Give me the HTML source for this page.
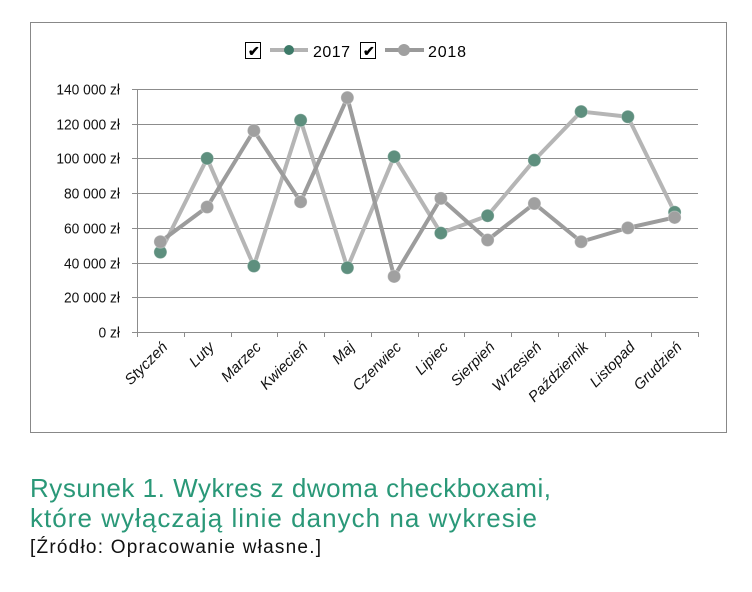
<!DOCTYPE html>
<html><head><meta charset="utf-8"><style>
body{margin:0;background:#fff;}
svg{display:block;font-family:"Liberation Sans",sans-serif;}
</style></head><body>
<svg id="c" width="752" height="592">
<rect x="30.5" y="22.5" width="696" height="410" fill="none" stroke="#888"/>
<g>
 <rect x="245.5" y="42.5" width="15" height="16" fill="#fff" stroke="#000"/>
 <text x="248" y="56" font-size="14" font-weight="bold">✔</text>
 <line x1="270" y1="50" x2="308" y2="50" stroke="#b3b3b3" stroke-width="4"/>
 <circle cx="289" cy="50" r="5" fill="#3d7a68"/>
 <text x="313" y="57" font-size="16" textLength="37">2017</text>
 <rect x="360.5" y="42.5" width="15" height="16" fill="#fff" stroke="#000"/>
 <text x="363" y="56" font-size="14" font-weight="bold">✔</text>
 <line x1="385" y1="50" x2="424" y2="50" stroke="#9a9a9a" stroke-width="4"/>
 <circle cx="404" cy="50" r="6" fill="#a0a0a0"/>
 <text x="428" y="57" font-size="16" textLength="38">2018</text>
</g>
<g id="plot"></g>
<g>
 <text x="30" y="497" font-size="26" fill="#2a9878" textLength="521">Rysunek 1. Wykres z dwoma checkboxami,</text>
 <text x="30" y="527" font-size="26" fill="#2a9878" textLength="507">które wyłączają linie danych na wykresie</text>
 <text x="30" y="553" font-size="19" fill="#111" textLength="291">[Źródło: Opracowanie własne.]</text>
</g>
</svg>
<script>
const categories=["Styczeń","Luty","Marzec","Kwiecień","Maj","Czerwiec","Lipiec","Sierpień","Wrzesień","Październik","Listopad","Grudzień"];
const values2017=[46000,100000,38000,122000,37000,101000,57000,67000,99000,127000,124000,69000];
const values2018=[52000,72000,116000,75000,135000,32000,77000,53000,74000,52000,60000,66000];
const yTicks=[0,20000,40000,60000,80000,100000,120000,140000];
const yTickLabels=["0 zł","20 000 zł","40 000 zł","60 000 zł","80 000 zł","100 000 zł","120 000 zł","140 000 zł"];
const NS="http://www.w3.org/2000/svg";
const g=document.getElementById('plot');
const X0=137,X1=698,Y0=332,Y1=89,YMAX=140000;
const bw=(X1-X0)/categories.length;
const xs=i=>X0+bw*(i+0.5);
const ys=v=>Y0-(v/YMAX)*(Y0-Y1);
function mk(t,a){const e=document.createElementNS(NS,t);for(const k in a)e.setAttribute(k,a[k]);g.appendChild(e);return e;}
yTicks.forEach((v,i)=>{
 const y=Math.round(ys(v))+0.5;
 const l=mk('line',{x1:X0-5,x2:X1,y1:y,y2:y,stroke:'#8c8c8c','stroke-width':1});
 
 
 const t=mk('text',{x:120,y:y+5,'font-size':15,'text-anchor':'end',fill:'#111',transform:`translate(120 0) scale(0.92 1) translate(-120 0)`});
 t.textContent=yTickLabels[i];
 
 
});
const ax=mk('line',{x1:X0+0.5,x2:X0+0.5,y1:Y1,y2:Y0,stroke:'#8c8c8c'});


for(let i=0;i<=categories.length;i++){
 const x=Math.round(X0+bw*i)+0.5;
 const tk=mk('line',{x1:x,x2:x,y1:Y0,y2:Y0+5,stroke:'#8c8c8c'});
 
 
}
categories.forEach((c,i)=>{
 const x=xs(i)+8,y=Y0+16;
 const t=mk('text',{x:x,y:y,'font-size':15,'font-style':'italic','text-anchor':'end',fill:'#111',transform:`rotate(-45 ${x} ${y})`});
 t.textContent=c;
 
 
});
function series(vals,lc,mc,name,r){
 const p=mk('polyline',{points:vals.map((v,i)=>xs(i)+','+ys(v)).join(' '),fill:'none',stroke:lc,'stroke-width':4,'stroke-linejoin':'round'});
 
 
 vals.forEach((v,i)=>{
  const c=mk('circle',{cx:xs(i),cy:ys(v),r:r,fill:mc,stroke:'#fff','stroke-opacity':0.3,'stroke-width':1});
  
  
 });
}
series(values2017,'#b5b5b5','#5e8f7e','2017',6.5);
series(values2018,'#9c9c9c','#a0a0a0','2018',6.5);
</script>
</body></html>
